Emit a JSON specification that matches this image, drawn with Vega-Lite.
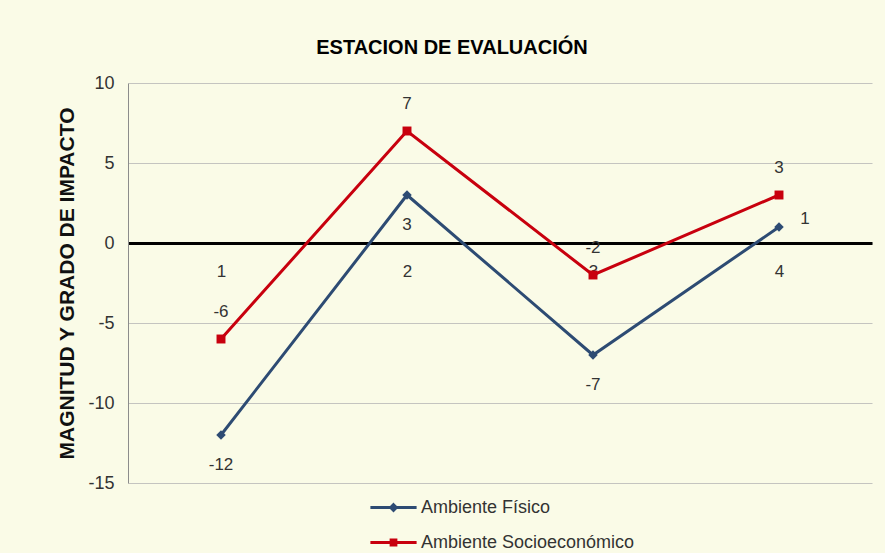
{
  "$schema": "https://vega.github.io/schema/vega-lite/v6.json",
  "autosize": "none",
  "width": 744,
  "height": 400,
  "padding": {"left": 128, "top": 83, "right": 13, "bottom": 70},
  "background": "#FAFBE7",
  "config": {
    "view": {"stroke": null},
    "font": "Liberation Sans",
    "text": {"font": "Liberation Sans"}
  },
  "title": {
    "text": "ESTACION DE EVALUACIÓN",
    "anchor": "middle",
    "dx": -48,
    "offset": 16,
    "fontSize": 20,
    "fontWeight": "bold",
    "color": "#000000",
    "font": "Liberation Sans"
  },
  "data": {
    "values": [
      {"estacion": "1", "serie": "Ambiente Físico", "valor": -12},
      {"estacion": "2", "serie": "Ambiente Físico", "valor": 3},
      {"estacion": "3", "serie": "Ambiente Físico", "valor": -7},
      {"estacion": "4", "serie": "Ambiente Físico", "valor": 1},
      {"estacion": "1", "serie": "Ambiente Socioeconómico", "valor": -6},
      {"estacion": "2", "serie": "Ambiente Socioeconómico", "valor": 7},
      {"estacion": "3", "serie": "Ambiente Socioeconómico", "valor": -2},
      {"estacion": "4", "serie": "Ambiente Socioeconómico", "valor": 3}
    ]
  },
  "encoding": {
    "x": {
      "field": "estacion",
      "type": "ordinal",
      "scale": {"type": "point", "padding": 0.5},
      "axis": {
        "title": null,
        "offset": -240,
        "domainColor": "#000000",
        "domainWidth": 3,
        "ticks": false,
        "labelAngle": 0,
        "labelPadding": 20,
        "labelFontSize": 17,
        "labelColor": "#333333",
        "grid": false
      }
    },
    "y": {
      "field": "valor",
      "type": "quantitative",
      "scale": {"domain": [-15, 10], "nice": false},
      "axis": {
        "values": [-15, -10, -5, 0, 5, 10],
        "labelExpr": "datum.value + ''",
        "title": "MAGNITUD Y GRADO DE IMPACTO",
        "titleFontSize": 21,
        "titleFontWeight": "bold",
        "titleColor": "#111111",
        "titlePadding": 10,
        "labelFontSize": 18,
        "labelColor": "#333333",
        "labelPadding": 14,
        "ticks": false,
        "domainColor": "#8C8C8C",
        "gridColor": "#C4C4C0",
        "gridWidth": 1
      }
    },
    "color": {
      "field": "serie",
      "type": "nominal",
      "scale": {
        "domain": ["Ambiente Físico", "Ambiente Socioeconómico"],
        "range": ["#2D4B73", "#C8000E"]
      },
      "legend": {
        "title": null,
        "orient": "none",
        "legendX": 250,
        "legendY": 409,
        "direction": "vertical",
        "labelFontSize": 18,
        "labelLimit": 400,
        "labelColor": "#333333",
        "symbolType": "M-1.65,0H1.65",
        "symbolSize": 784,
        "symbolStrokeWidth": 3,
        "rowPadding": 10,
        "labelOffset": 12,
        "encode": {
          "symbols": {
            "update": {
              "shape": {"signal": "datum.value == 'Ambiente Físico' ? 'M-1.65,0H1.65M0,-0.2L0.2,0L0,0.2L-0.2,0Z' : 'M-1.65,0H1.65M-0.17,-0.17H0.17V0.17H-0.17Z'"},
              "fill": {"signal": "datum.value == 'Ambiente Físico' ? '#2D4B73' : '#C8000E'"},
              "opacity": {"value": 1}
            }
          }
        }
      }
    }
  },
  "layer": [
    {"mark": {"type": "line", "strokeWidth": 3}},
    {
      "transform": [{"filter": "datum.serie == 'Ambiente Físico'"}],
      "mark": {"type": "point", "shape": "diamond", "filled": true, "opacity": 1, "size": 90}
    },
    {
      "transform": [{"filter": "datum.serie == 'Ambiente Socioeconómico'"}],
      "mark": {"type": "point", "shape": "square", "filled": true, "opacity": 1, "size": 80}
    },
    {
      "transform": [{"filter": "datum.serie == 'Ambiente Físico' && datum.estacion != '4'"}],
      "mark": {"type": "text", "dy": 30, "fontSize": 17},
      "encoding": {"text": {"field": "valor", "type": "nominal"}, "color": {"value": "#333333"}}
    },
    {
      "transform": [{"filter": "datum.serie == 'Ambiente Físico' && datum.estacion == '4'"}],
      "mark": {"type": "text", "dx": 26, "dy": -8, "fontSize": 17},
      "encoding": {"text": {"field": "valor", "type": "nominal"}, "color": {"value": "#333333"}}
    },
    {
      "transform": [{"filter": "datum.serie == 'Ambiente Socioeconómico'"}],
      "mark": {"type": "text", "dy": -27, "fontSize": 17},
      "encoding": {"text": {"field": "valor", "type": "nominal"}, "color": {"value": "#333333"}}
    }
  ]
}
